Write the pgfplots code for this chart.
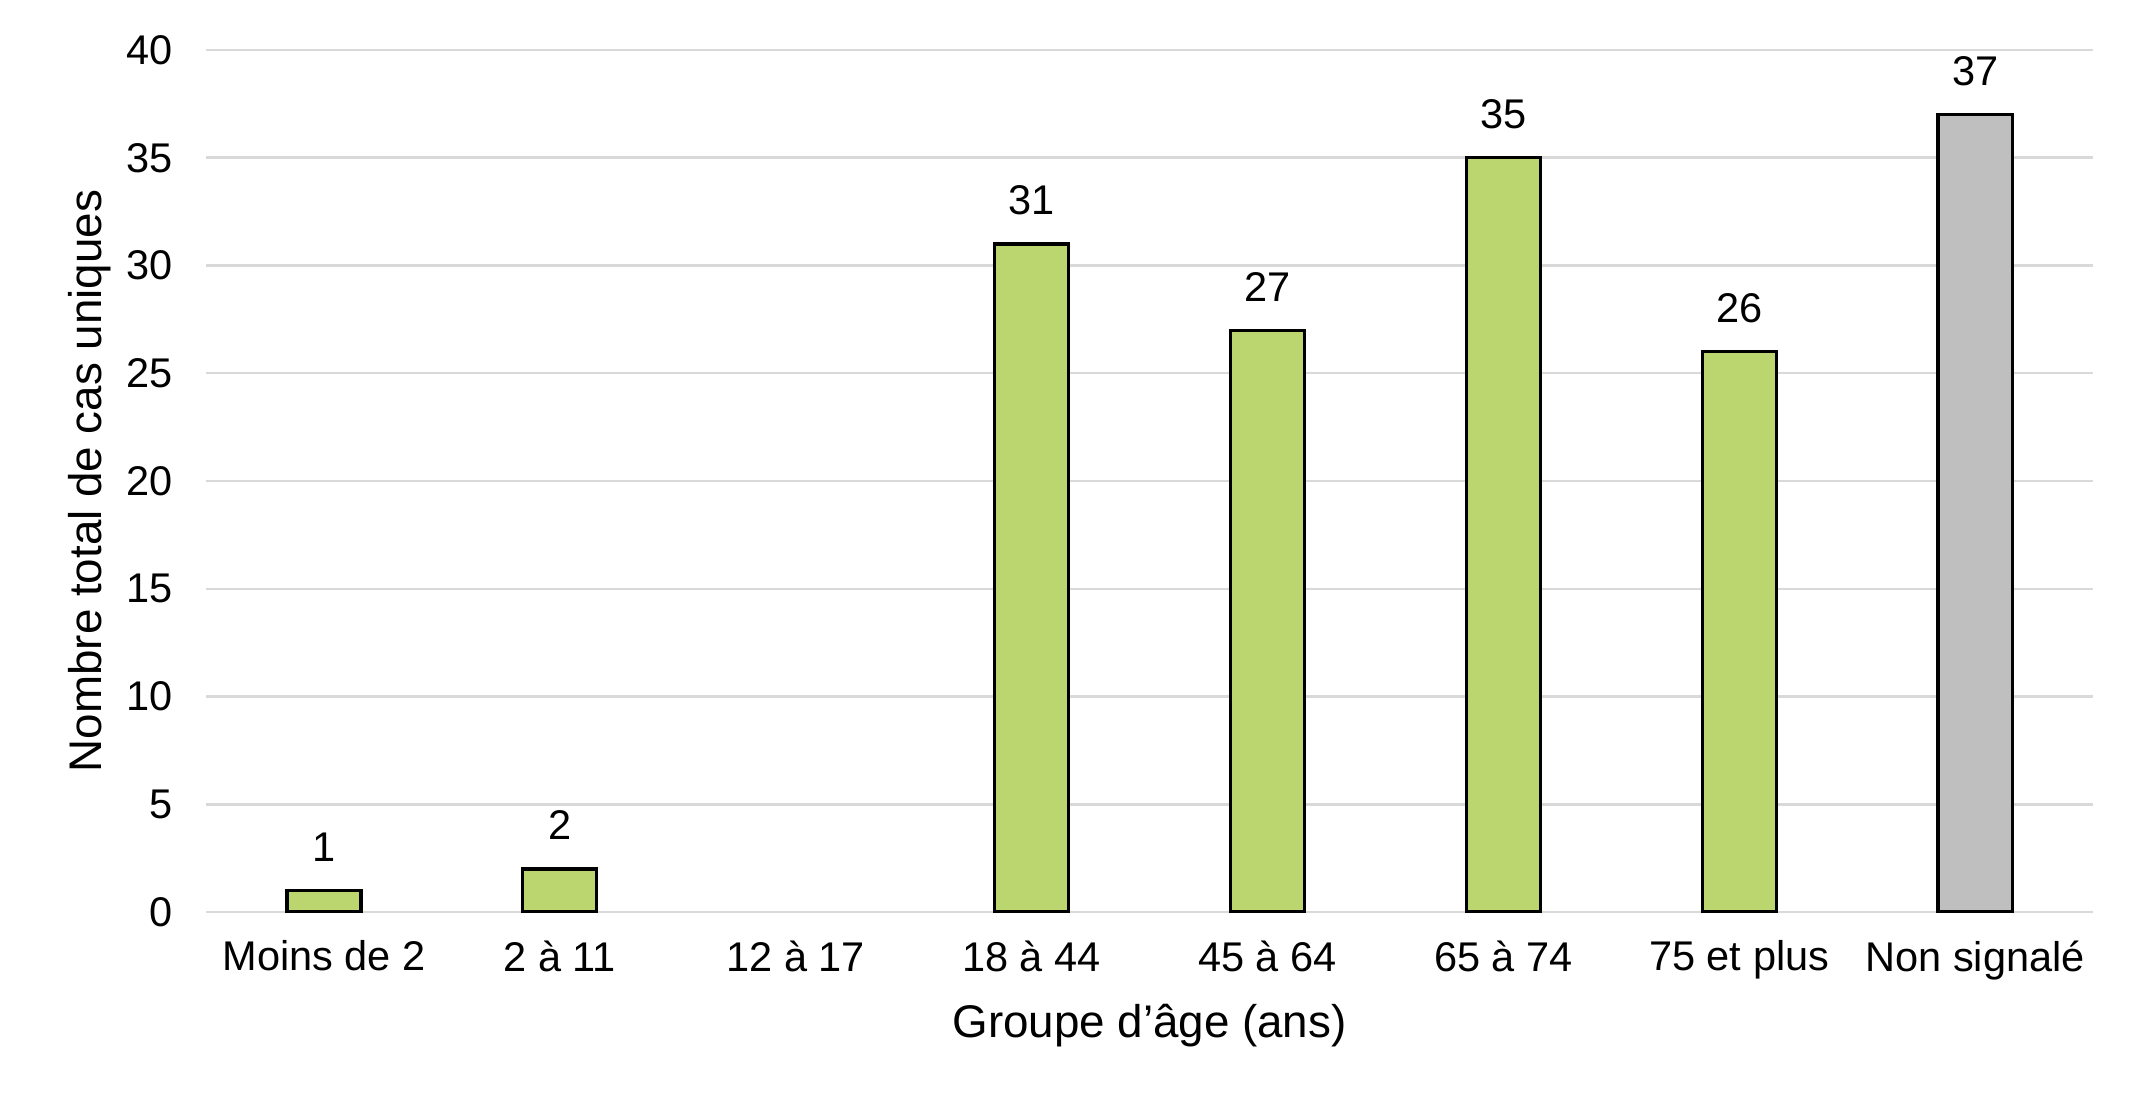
\documentclass[border=0pt]{standalone}
\usepackage{fontspec}
\setmainfont{Liberation Sans}
\usepackage{pgfplots}
\pgfplotsset{compat=1.18}

\definecolor{barvert}{RGB}{187,214,110}
\definecolor{bargris}{RGB}{191,191,191}
\definecolor{grille}{RGB}{217,217,217}

\begin{document}
\begin{tikzpicture}
\begin{axis}[
    scale only axis,
    width=754.8pt, height=344.8pt,
    font=\fontsize{16.6}{19}\selectfont,
    xmin=-0.5, xmax=7.5,
    ymin=0, ymax=40,
    ytick={0,5,...,40},
    xtick={0,...,7},
    xticklabels={Moins de 2, 2 à 11, 12 à 17, 18 à 44, 45 à 64, 65 à 74, 75 et plus, Non signalé},
    axis line style={draw=none},
    major tick length=0pt,
    ymajorgrids,
    grid style={grille, line width=1pt},
    /pgf/number format/assume math mode=true,
    yticklabel style={xshift=-10pt},
    xticklabel style={yshift=-8pt},
    xlabel={Groupe d’âge (ans)},
    ylabel={Nombre total de cas uniques},
    label style={font=\fontsize{18.3}{21}\selectfont},
    xlabel style={yshift=-3pt},
    ylabel style={yshift=-1pt},
    ybar, bar width=0.314, bar shift=0pt,
    nodes near coords,
    every node near coord/.append style={anchor=south, inner sep=0pt, yshift=11pt},
]
\addplot[fill=barvert, draw=black, line width=1.3pt]
    coordinates {(0,1) (1,2) (3,31) (4,27) (5,35) (6,26)};
\addplot[fill=bargris, draw=black, line width=1.3pt]
    coordinates {(7,37)};
\end{axis}
\path ([shift={(-82.4pt,-76.8pt)}]current axis.south west) rectangle ([shift={(20.4pt,20pt)}]current axis.north east);
\end{tikzpicture}
\end{document}
